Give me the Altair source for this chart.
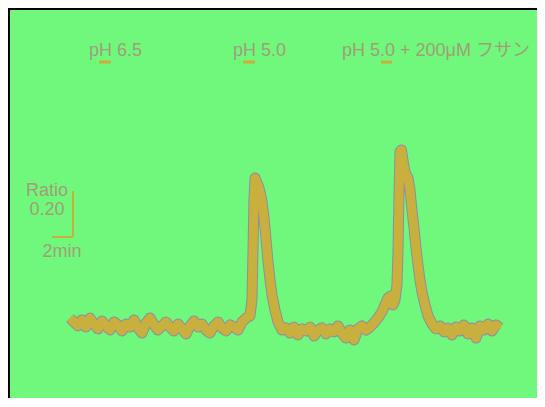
import altair as alt
import pandas as pd

# ---- trace: time (min) and fluorescence ratio ----
time_min = [
    0.00, 0.38, 0.76, 1.14, 1.52, 1.90, 2.29, 2.67, 3.05, 3.43,
    3.81, 4.19, 4.57, 4.95, 5.33, 5.71, 6.10, 6.48, 6.86, 7.24,
    7.62, 8.00, 8.38, 8.76, 9.14, 9.52, 9.90, 10.29, 10.67, 11.05,
    11.43, 11.81, 12.19, 12.57, 12.95, 13.33, 13.71, 14.10, 14.48, 14.86,
    15.24, 15.62, 16.00, 16.38, 16.76, 17.14,
    17.33, 17.43, 17.52, 17.62, 17.76, 17.90, 18.10, 18.29, 18.48, 18.67,
    18.86, 19.05, 19.24, 19.52, 19.81, 20.19,
    20.57, 20.95, 21.33, 21.71, 22.10, 22.48, 22.86, 23.24, 23.62, 24.00,
    24.38, 24.76, 25.14, 25.52, 25.90, 26.29, 26.67, 27.05, 27.43, 27.81,
    28.19, 28.57, 28.95,
    29.33, 29.71, 30.00, 30.29, 30.57, 30.76, 30.95, 31.14, 31.24, 31.33,
    31.43, 31.57, 31.71, 31.90, 32.19, 32.38, 32.57, 32.76, 32.95, 33.14,
    33.33, 33.52, 33.81, 34.10, 34.48, 34.86,
    35.24, 35.62, 36.00, 36.38, 36.76, 37.14, 37.52, 37.90, 38.29, 38.67,
    39.05, 39.43, 39.81, 40.19, 40.57, 40.95,
]
ratio = [
    1.030, 1.013, 0.996, 1.022, 0.991, 1.030, 1.004, 0.983, 1.017, 0.996,
    0.978, 1.013, 1.000, 0.974, 1.004, 0.991, 1.022, 0.987, 0.965, 1.009,
    1.030, 1.000, 0.978, 0.996, 1.013, 0.991, 0.974, 1.004, 0.983, 0.961,
    0.996, 1.017, 0.991, 1.004, 0.978, 0.965, 0.996, 1.013, 0.987, 0.974,
    1.000, 0.991, 0.978, 1.013, 1.030, 1.039,
    1.109, 1.326, 1.543, 1.639, 1.622, 1.609, 1.578, 1.535, 1.465, 1.370,
    1.274, 1.196, 1.130, 1.065, 1.013, 0.978,
    0.987, 0.965, 0.991, 0.957, 0.983, 0.974, 0.991, 0.952, 0.978, 0.987,
    0.961, 0.983, 0.970, 0.996, 0.965, 0.943, 0.978, 0.935, 0.983, 0.996,
    0.978, 0.991, 1.009,
    1.030, 1.057, 1.087, 1.117, 1.126, 1.087, 1.109, 1.174, 1.326, 1.565,
    1.752, 1.761, 1.717, 1.665, 1.639, 1.587, 1.500, 1.422, 1.335, 1.261,
    1.196, 1.143, 1.087, 1.039, 1.004, 0.983,
    0.996, 0.970, 0.987, 0.957, 0.991, 0.974, 1.000, 0.961, 0.987, 0.943,
    0.996, 0.978, 1.004, 0.974, 1.000, 0.987,
]

# ---- condition labels and application marks ----
label_text = ["pH 6.5", "pH 5.0", "pH 5.0 + 200μM フサン"]
label_t = [1.81, 15.52, 25.90]
label_r = [2.170, 2.170, 2.170]
mark_t_start = [2.76, 16.48, 29.62]
mark_t_end = [3.90, 17.62, 30.67]
mark_r = [2.143, 2.143, 2.143]

# ---- scale bar (2 min x 0.20 ratio) ----
bar_x = [0.286, -1.714]
bar_x2 = [0.286, 0.286]
bar_y = [1.3826, 1.3826]
bar_y2 = [1.5826, 1.3826]
bar_text = ["Ratio", "0.20", "2min"]
bar_text_t = [-2.19, -2.19, -0.76]
bar_text_r = [1.561, 1.478, 1.296]

GREEN = "#70f87c"
GOLD = "#c9b03e"
OUTLINE = "#8e8ea2"
TEXT = "#a09e76"
FONT = "Liberation Sans, Arial, Noto Sans CJK JP"
W, H = 529, 390

xs = alt.Scale(domain=[-5.905, 44.476], nice=False, zero=False)
ys = alt.Scale(domain=[0.6826, 2.378], nice=False, zero=False)

trace = pd.DataFrame({"t": time_min, "r": ratio})
labels = pd.DataFrame({"text": label_text, "t": label_t, "r": label_r})
marks = pd.DataFrame({"t": mark_t_start, "t2": mark_t_end, "r": mark_r})
bars = pd.DataFrame({"x": bar_x, "x2": bar_x2, "y": bar_y, "y2": bar_y2})
btext = pd.DataFrame({"text": bar_text, "t": bar_text_t, "r": bar_text_r})

base_x = alt.X("t:Q", scale=xs, axis=None)
base_y = alt.Y("r:Q", scale=ys, axis=None)

outline = alt.Chart(trace).mark_line(
    color=OUTLINE, strokeWidth=11, strokeJoin="round", strokeCap="butt"
).encode(x=base_x, y=base_y, order="t:Q")
core = alt.Chart(trace).mark_line(
    color=GOLD, strokeWidth=9, strokeJoin="round", strokeCap="butt"
).encode(x=base_x, y=base_y, order="t:Q")

label_layer = alt.Chart(labels).mark_text(
    align="left", baseline="alphabetic", font=FONT, fontSize=18, color=TEXT
).encode(x=base_x, y=base_y, text="text:N")

mark_layer = alt.Chart(marks).mark_rule(color=GOLD, strokeWidth=3).encode(
    x=base_x, x2="t2:Q", y=base_y
)

bar_layer = alt.Chart(bars).mark_rule(color=GOLD, strokeWidth=2).encode(
    x=alt.X("x:Q", scale=xs, axis=None), x2="x2:Q",
    y=alt.Y("y:Q", scale=ys, axis=None), y2="y2:Q"
)

btext_layer = alt.Chart(btext).mark_text(
    align="center", baseline="alphabetic", font=FONT, fontSize=18, color=TEXT
).encode(x=base_x, y=base_y, text="text:N")

# frame on left and top edges only (the rest of the original frame is cropped)
left_edge = alt.Chart(trace).mark_rule(color="black", strokeWidth=4).encode(
    x=alt.value(0), y=alt.value(0), y2=alt.value(H)
)
top_edge = alt.Chart(trace).mark_rule(color="black", strokeWidth=4).encode(
    x=alt.value(0), x2=alt.value(W), y=alt.value(0)
)

chart = alt.layer(
    outline, core, mark_layer, bar_layer, label_layer, btext_layer,
    left_edge, top_edge
).properties(
    width=W, height=H, padding=0, autosize="none", background=GREEN
).configure_view(
    strokeWidth=0, fill=GREEN
)

chart.save("out.html", embed_options={"renderer": "svg", "actions": False})
